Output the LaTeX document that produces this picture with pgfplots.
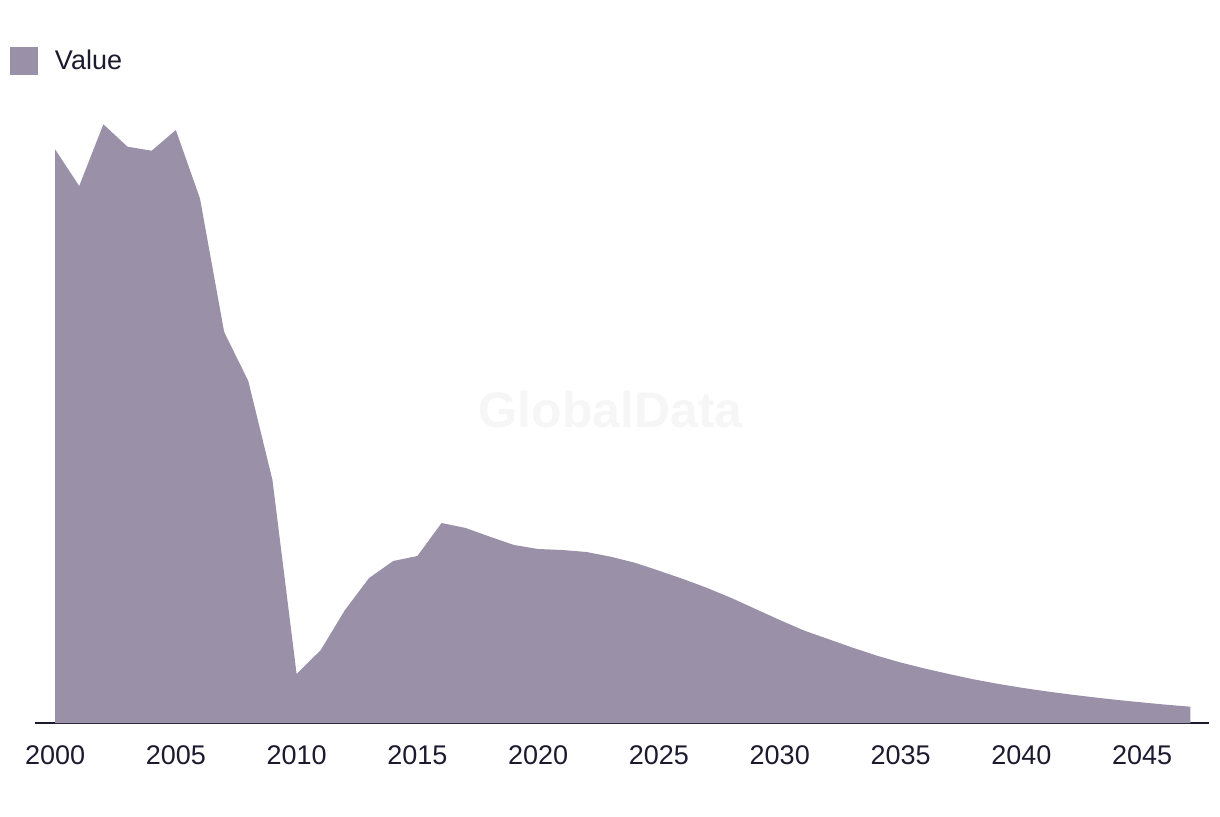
\documentclass[border=0pt]{standalone}
\usepackage{pgfplots}
\pgfplotsset{compat=1.18}
\usepackage{fontspec}
\setmainfont{Liberation Sans}
\definecolor{areacol}{RGB}{154,145,169}
\definecolor{txtcol}{RGB}{28,26,46}
\definecolor{wmcol}{RGB}{246,246,246}
\begin{document}
\begin{tikzpicture}
\path[use as bounding box] (0pt,0pt) rectangle (610pt,408pt);
\begin{axis}[
  at={(17.5pt,46.5pt)}, anchor=south west,
  scale only axis, width=587pt, height=311.5pt,
  xmin=1999.17, xmax=2047.77, ymin=0, ymax=623,
  axis x line=bottom, axis y line=none,
  x axis line style={-, line width=1pt, draw=txtcol},
  xtick={2000,2005,...,2045}, major tick length=0pt,
  xticklabel style={font=\fontsize{13.5}{16}\selectfont, text=txtcol, yshift=-8pt},
  /pgf/number format/assume math mode=true,
  /pgf/number format/1000 sep={},
  clip=false,
  legend style={draw=none, fill=none, at={(axis description cs:-0.0213,1.0867)}, anchor=north west,
    inner sep=0pt, outer sep=0pt, font=\fontsize{13.5}{16}\selectfont, text=txtcol,
    /tikz/every odd column/.style={column sep=6.5pt}},
  legend image code/.code={\fill[areacol] (0pt,-7pt) rectangle (14pt,7pt);},
]
\node[font=\bfseries\fontsize{25}{30}\selectfont, text=wmcol] at (axis cs:2023.0,0) [yshift=156.5pt] {GlobalData};
\addplot[fill=areacol, draw=none] coordinates {
(2000,573.7)(2001,537)(2002,598.7)(2003,576.3)(2004,572.3)(2005,593)(2006,524.5)(2007,391)(2008,342)(2009,243)
(2010,49)(2011,73)(2012,113)(2013,145)(2014,162)(2015,167)(2016,200)(2017,195)(2018,186.3)(2019,178)
(2020,174)(2021,173)(2022,171)(2023,166.3)(2024,160.3)(2025,152.3)(2026,144)(2027,135)(2028,125)(2029,114)
(2030,103)(2031,92.5)(2032,84)(2033,75.5)(2034,67.5)(2035,60.5)(2036,54.5)(2037,49)(2038,43.8)(2039,39.3)
(2040,35.3)(2041,31.8)(2042,28.6)(2043,25.7)(2044,23)(2045,20.6)(2046,18.3)(2047,16.3)
} \closedcycle;
\addlegendentry{Value}
\end{axis}
\end{tikzpicture}
\end{document}
